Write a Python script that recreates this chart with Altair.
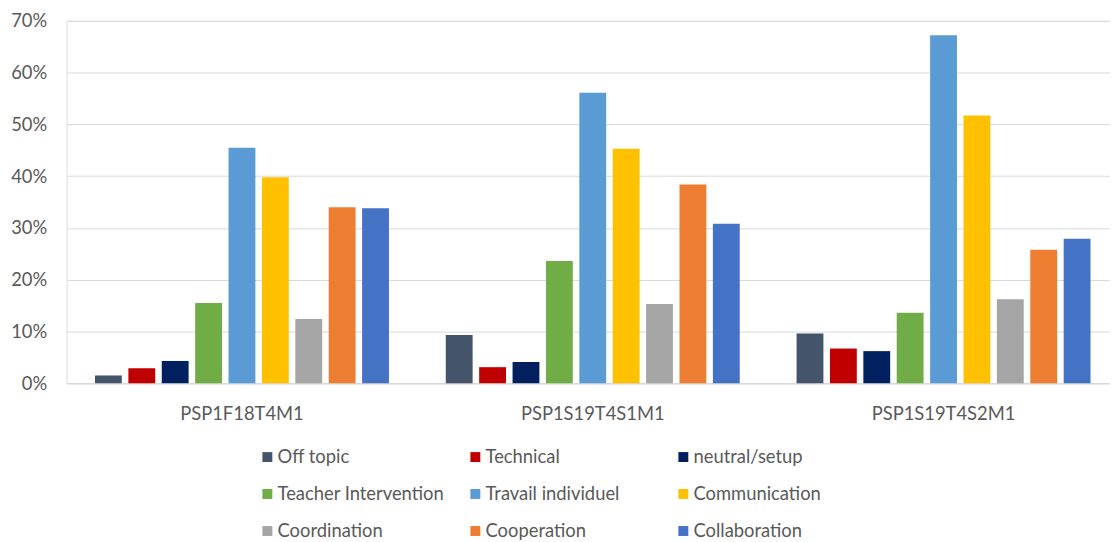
import altair as alt
import pandas as pd

groups = ["PSP1F18T4M1", "PSP1S19T4S1M1", "PSP1S19T4S2M1"]
categories = ["Off topic", "Technical", "neutral/setup",
              "Teacher Intervention", "Travail individuel", "Communication",
              "Coordination", "Cooperation", "Collaboration"]
colors = ["#44546A", "#C00000", "#002060", "#70AD47", "#5B9BD5",
          "#FFC000", "#A5A5A5", "#ED7D31", "#4472C4"]
vals_g1 = [0.015, 0.029, 0.043, 0.155, 0.455, 0.398, 0.124, 0.340, 0.338]
vals_g2 = [0.093, 0.031, 0.041, 0.236, 0.561, 0.453, 0.153, 0.384, 0.308]
vals_g3 = [0.096, 0.067, 0.062, 0.136, 0.672, 0.517, 0.162, 0.258, 0.279]
y_ticks = [0, 0.1, 0.2, 0.3, 0.4, 0.5, 0.6, 0.7]

rows = []
for g, vals in zip(groups, [vals_g1, vals_g2, vals_g3]):
    for c, v in zip(categories, vals):
        rows.append({"group": g, "category": c, "value": v})
df = pd.DataFrame(rows)

FONT = "Lato"
TXT = "#595959"
GRID = "#d9d9d9"

chart = alt.Chart(df).mark_bar().encode(
    x=alt.X("group:N", sort=groups,
            scale=alt.Scale(range=[0, 1060], paddingInner=0.162, paddingOuter=0.081),
            axis=alt.Axis(title=None, labelAngle=0, labelFontSize=18.5, labelColor=TXT,
                          labelFont=FONT, labelPadding=22, ticks=False,
                          domainColor=GRID, domainWidth=1)),
    xOffset=alt.XOffset("category:N", sort=categories,
                        scale=alt.Scale(paddingInner=0.196, paddingOuter=0)),
    y=alt.Y("value:Q", scale=alt.Scale(domain=[0, 0.7]),
            axis=alt.Axis(title=None, values=y_ticks, format=".0%", labelFontSize=18.5,
                          labelColor=TXT, labelFont=FONT, labelPadding=20,
                          ticks=False, domain=False, gridColor=GRID, gridWidth=1)),
    color=alt.Color("category:N", sort=categories,
                    scale=alt.Scale(domain=categories, range=colors),
                    legend=alt.Legend(title=None, orient="none", legendX=193, legendY=430,
                                      direction="horizontal",
                                      columns=3, gridAlign="all", symbolType="square",
                                      symbolSize=100, symbolStrokeWidth=0,
                                      labelFontSize=18.5, labelColor=TXT, labelFont=FONT,
                                      labelOffset=1, rowPadding=18.3, columnPadding=21.5,
                                      labelLimit=400)),
).properties(
    width=1051, height=365,
    autosize=alt.AutoSizeParams(type="none"),
    padding={"left": 59, "top": 11, "right": 0, "bottom": 161},
).configure_view(stroke=None).configure(font=FONT)

chart.save("out.html", embed_options={"renderer": "svg", "actions": False})
